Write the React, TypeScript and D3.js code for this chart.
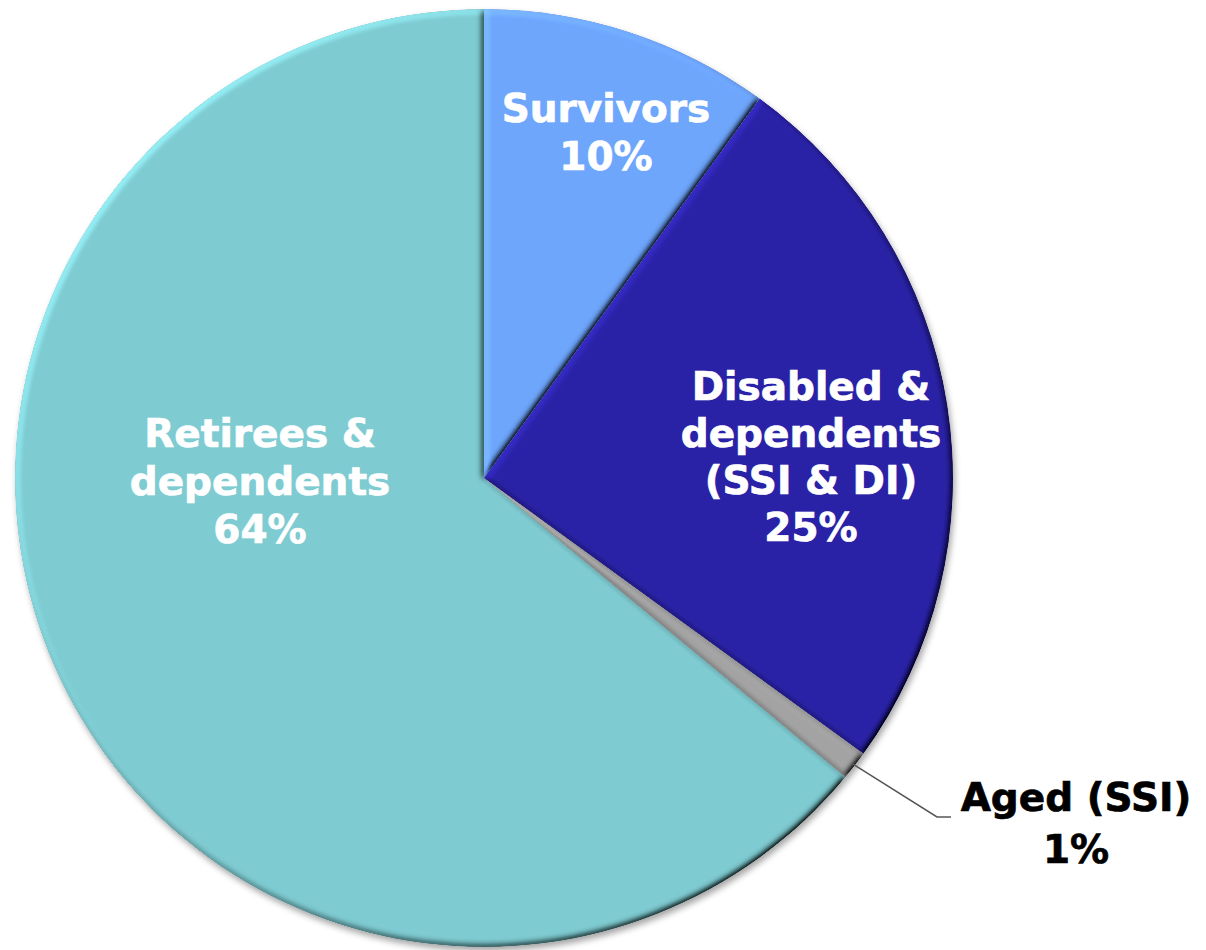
import React from "react";
import * as d3 from "d3";

const categories = ["Survivors", "Disabled & dependents (SSI & DI)", "Aged (SSI)", "Retirees & dependents"];
const values = [10, 25, 1, 64];
const colors = ["#6ea6fc", "#2a22a6", "#a4a4a4", "#7ecbd1"];
const labelLines = [
  ["Survivors", "10%"],
  ["Disabled &", "dependents", "(SSI & DI)", "25%"],
  ["Aged (SSI)", "1%"],
  ["Retirees &", "dependents", "64%"],
];

const W = 1206;
const H = 950;
const CX = 484;
const CY = 478;
const R = 469;

// label layout: center x, first baseline, line height, colour
const labelLayout = [
  { x: 606, y: 122, lh: 48, fill: "#ffffff" },
  { x: 811, y: 400, lh: 47, fill: "#ffffff" },
  { x: 1076, y: 811, lh: 52, fill: "#000000" },
  { x: 260, y: 447, lh: 48, fill: "#ffffff" },
];

export default function App() {
  const pie = d3.pie<number>().sort(null).value((d) => d).startAngle(0).endAngle(2 * Math.PI);
  const arcs = pie(values);
  const arc = d3.arc<d3.PieArcDatum<number>>().innerRadius(0).outerRadius(R);

  const aged = arcs[2];
  const mid = (aged.startAngle + aged.endAngle) / 2;
  const p0 = [Math.sin(mid) * (R - 2), -Math.cos(mid) * (R - 2)];
  const p1 = [937 - CX, 817 - CY];
  const p2 = [951 - CX, 817 - CY];
  const leader = d3.line()([p0 as [number, number], p1 as [number, number], p2 as [number, number]]);

  return (
    <div style={{ position: "absolute", left: 0, top: 0 }}>
      <svg width={W} height={H} style={{ display: "block", background: "#ffffff" }}>
        <defs>
          <filter id="shadow" x="-10%" y="-10%" width="120%" height="120%">
            <feDropShadow dx="2" dy="4" stdDeviation="3" floodColor="#000" floodOpacity="0.35" />
          </filter>
          <filter id="bevel" x="-5%" y="-5%" width="110%" height="110%">
            <feGaussianBlur in="SourceAlpha" stdDeviation="3" result="blur" />
            <feDiffuseLighting in="blur" surfaceScale="4" diffuseConstant="1" lightingColor="#ffffff" result="light">
              <feDistantLight azimuth="225" elevation="45" />
            </feDiffuseLighting>
            <feComposite in="SourceGraphic" in2="light" operator="arithmetic" k1="1.414" k2="0" k3="0" k4="0" result="lit" />
            <feComposite in="lit" in2="SourceAlpha" operator="in" />
          </filter>
        </defs>
        <g transform={`translate(${CX},${CY})`}>
          <g filter="url(#shadow)">
            {arcs.map((a, i) => (
              <path key={categories[i]} d={arc(a) || ""} fill={colors[i]} filter="url(#bevel)" />
            ))}
          </g>
          <path d={leader || ""} fill="none" stroke="#555555" strokeWidth={1.5} />
        </g>
        {labelLines.map((lines, i) => (
          <text
            key={categories[i]}
            x={labelLayout[i].x}
            y={labelLayout[i].y}
            textAnchor="middle"
            fontFamily="'DejaVu Sans', Verdana, sans-serif"
            fontWeight="bold"
            fontSize={39}
            fill={labelLayout[i].fill}
            stroke={labelLayout[i].fill}
            strokeWidth={0.7}
          >
            {lines.map((ln, j) => (
              <tspan key={j} x={labelLayout[i].x} y={labelLayout[i].y + j * labelLayout[i].lh}>
                {ln}
              </tspan>
            ))}
          </text>
        ))}
      </svg>
    </div>
  );
}
